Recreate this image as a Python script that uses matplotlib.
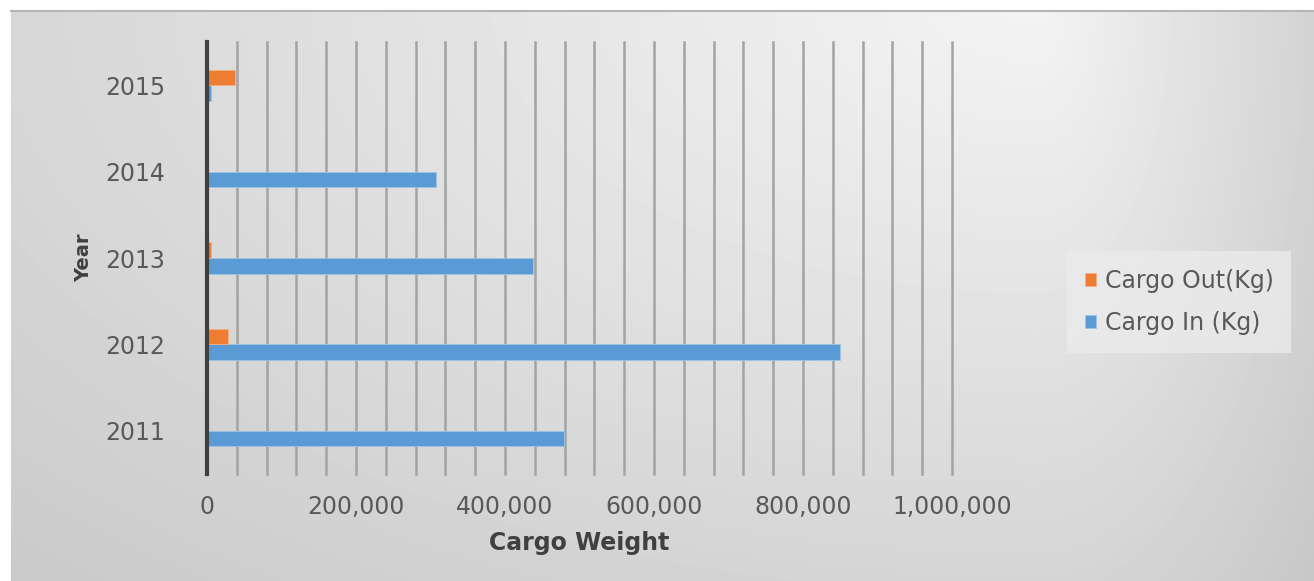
import numpy as np
import matplotlib
matplotlib.use("Agg")
import matplotlib.pyplot as plt
from matplotlib.lines import Line2D
from matplotlib.ticker import FuncFormatter, MultipleLocator

# ---- data ----
years = ["2011", "2012", "2013", "2014", "2015"]
cargo_in = [479000, 850000, 437000, 308000, 6000]
cargo_out = [0, 28000, 6000, 0, 37000]
series_names = ["Cargo Out(Kg)", "Cargo In (Kg)"]
x_label = "Cargo Weight"
y_label = "Year"

W, H = 1314, 581
DPI = 100
fig = plt.figure(figsize=(W / DPI, H / DPI), dpi=DPI)
fig.patch.set_facecolor("white")

# ---- gradient background (chart area) ----
bx0, by0 = 11, 11
bg_ax = fig.add_axes([bx0 / W, 0, (W - bx0) / W, (H - by0) / H], zorder=-10)
xs = np.arange(bx0, W)
ys = np.arange(by0, H)
X, Y = np.meshgrid(xs, ys)
h = np.where(X < 1040, (1040 - X) / 1000 * 0.11, (X - 1040) / 280 * 0.13)
v = Y / 580 * 0.12
val = np.clip(0.955 - np.sqrt(h ** 2 + v ** 2), 0, 1)
bg_ax.imshow(val, cmap="gray", vmin=0, vmax=1, aspect="auto",
             extent=(0, 1, 0, 1), interpolation="bilinear")
bg_ax.set_axis_off()
fig.add_artist(Line2D([bx0 / W, 1], [1 - by0 / H, 1 - by0 / H],
                      color="#b5b5b5", lw=1.5, transform=fig.transFigure))

# ---- main axes ----
left, right = 207 / W, 952 / W
top, bottom = 1 - 42 / H, 1 - 474 / H
ax = fig.add_axes([left, bottom, right - left, top - bottom])
ax.set_facecolor("none")

y = np.arange(len(years))
bh = 0.18
ax.barh(y - bh / 2, cargo_in, height=bh, color="#5b9bd5",
        edgecolor="#9cc3e6", linewidth=0.6, label=series_names[1], zorder=3)
ax.barh(y + bh / 2, cargo_out, height=bh, color="#ed7d31",
        edgecolor="#f4b183", linewidth=0.6, label=series_names[0], zorder=3)

ax.set_xlim(0, 1000000)
ax.set_ylim(-0.5, len(years) - 0.5)
ax.xaxis.set_major_locator(MultipleLocator(200000))
ax.xaxis.set_minor_locator(MultipleLocator(40000))
ax.xaxis.set_major_formatter(FuncFormatter(lambda v, p: f"{int(v):,}"))
ax.grid(axis="x", which="both", color="#a3a3a3", lw=1.8, zorder=1)
for gl in ax.xaxis.get_gridlines() + ax.xaxis.get_minorticklines():
    gl.set_clip_on(False)
for t in ax.xaxis.get_major_ticks() + ax.xaxis.get_minor_ticks():
    t.gridline.set_clip_on(False)
ax.set_yticks(y)
ax.set_yticklabels(years)

for s in ["top", "right", "bottom"]:
    ax.spines[s].set_visible(False)
ax.spines["left"].set_color("#404040")
ax.spines["left"].set_linewidth(3)
ax.spines["left"].set_zorder(5)

font = "DejaVu Sans"
ax.tick_params(axis="both", which="both", length=0, labelcolor="#595959",
               labelsize=17)
ax.tick_params(axis="y", pad=30)
ax.tick_params(axis="x", pad=15)
for lab in ax.get_xticklabels() + ax.get_yticklabels():
    lab.set_family(font)

ax.set_xlabel(x_label, fontsize=17, fontweight="bold", color="#404040",
              family=font, labelpad=9)
ax.set_ylabel(y_label, fontsize=14, fontweight="bold", color="#404040",
              family=font, labelpad=9)

handles, labels = ax.get_legend_handles_labels()
leg = fig.legend(handles[::-1], labels[::-1],
                 loc="center left", bbox_to_anchor=(1055 / W, 1 - 302 / H),
                 prop={"family": font, "size": 17},
                 labelcolor="#595959", frameon=True, fancybox=False,
                 handlelength=0.5, handleheight=0.5, handletextpad=0.35,
                 labelspacing=0.75, borderpad=0.75)
leg.get_frame().set_facecolor("#ebebeb")
leg.get_frame().set_edgecolor("none")
leg.get_frame().set_alpha(0.8)

fig.savefig("out.png", dpi=DPI)
